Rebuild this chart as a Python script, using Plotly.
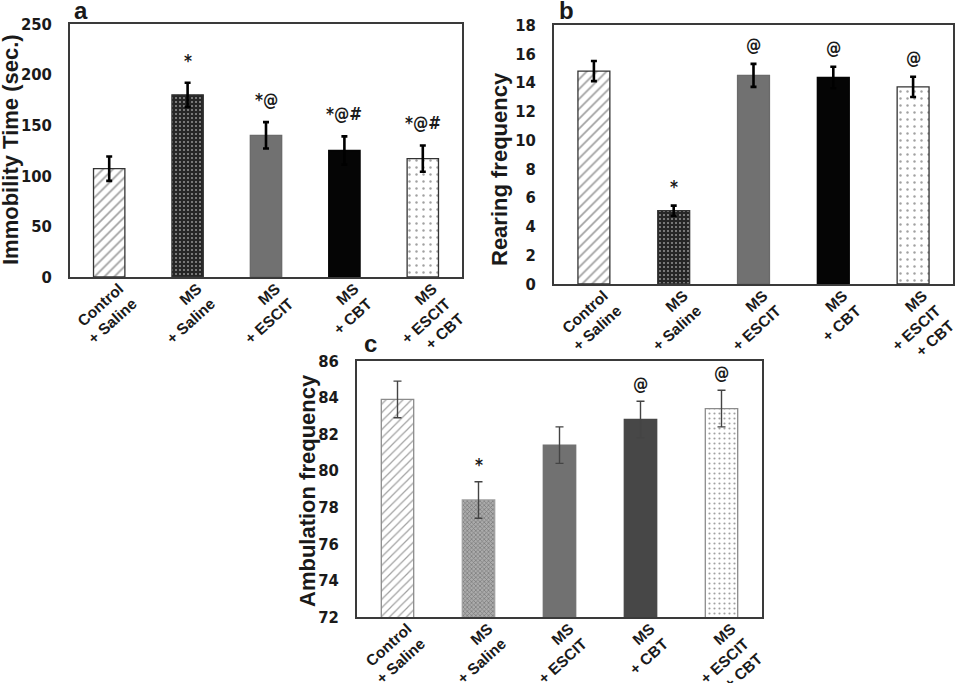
import plotly.graph_objects as go


# group labels shared by all three panels
GROUPS = [
    "Control<br>+ Saline",
    "MS<br>+ Saline",
    "MS<br>+ ESCIT",
    "MS<br>+ CBT",
    "MS<br>+ ESCIT<br>+ CBT",
]

# (a) forced swim test, immobility time (sec.)
IMMOBILITY_MEAN = [107, 180, 140, 125, 117]
IMMOBILITY_SEM = [12, 12, 13, 14, 13]
IMMOBILITY_SIG = ["", "*", "*@", "*@#", "*@#"]

# (b) open field, rearing frequency
REARING_MEAN = [14.8, 5.1, 14.5, 14.35, 13.7]
REARING_SEM = [0.7, 0.35, 0.8, 0.75, 0.7]
REARING_SIG = ["", "*", "@", "@", "@"]

# (c) open field, ambulation frequency
AMBULATION_MEAN = [83.9, 78.4, 81.4, 82.8, 83.4]
AMBULATION_SEM = [1.0, 1.0, 1.0, 1.0, 1.0]
AMBULATION_SIG = ["", "*", "", "@", "@"]

NARROW = "Liberation Sans Narrow, DejaVu Sans Condensed, Arial Narrow, sans-serif"
X_TICK_FONT = dict(family="Liberation Sans, Arial, sans-serif", size=15.5, color="#1a1a1a", weight="bold")
Y_TICK_FONT = dict(family=NARROW, size=16.5, color="#1a1a1a", weight="bold")
TITLE_FONT = dict(family="Liberation Sans, Arial, sans-serif", size=22, color="#1a1a1a", weight="bold")

# fill styles for panels a and b
STYLE_AB = dict(
    shape=["/", ".", "", "", "."],
    fg=["#8a8a8a", "#555555", "#717171", "#050505", "#8a8a8a"],
    bg=["#ffffff", "#262626", "#717171", "#050505", "#ffffff"],
    size=[7, 4, 8, 8, 7],
    solidity=[0.25, 0.2, 0.3, 0.3, 0.1],
    line=["#333333", "#333333", "#6a6a6a", "#050505", "#333333"],
)

# fill styles for panel c
STYLE_C = dict(
    shape=["/", "x", "", "", "."],
    fg=["#b0b0b0", "#8a8a8a", "#717171", "#474747", "#dddddd"],
    bg=["#ffffff", "#ababab", "#717171", "#474747", "#ffffff"],
    size=[6, 3, 8, 8, 5],
    solidity=[0.2, 0.4, 0.3, 0.3, 0.15],
    line=["#8c8c8c", "#a0a0a0", "#717171", "#474747", "#8c8c8c"],
)


def bar_trace(means, sems, style, xaxis, yaxis, err_color, err_thick, err_width):
    return go.Bar(
        x=GROUPS,
        y=means,
        xaxis=xaxis,
        yaxis=yaxis,
        marker=dict(
            color=style["bg"],
            line=dict(color=style["line"], width=1.3),
            pattern=dict(
                shape=style["shape"],
                fgcolor=style["fg"],
                bgcolor=style["bg"],
                size=style["size"],
                solidity=style["solidity"],
            ),
        ),
        error_y=dict(
            type="data",
            array=sems,
            visible=True,
            color=err_color,
            thickness=err_thick,
            width=err_width,
        ),
        showlegend=False,
    )


def sig_annotations(means, sems, labels, xref, yref, shift):
    notes = []
    for group, mean, sem, label in zip(GROUPS, means, sems, labels):
        if not label:
            continue
        notes.append(
            dict(
                x=group,
                y=mean + sem,
                xref=xref,
                yref=yref,
                text=label,
                showarrow=False,
                yanchor="bottom",
                yshift=shift,
                font=dict(family=NARROW, size=17, color="#1a1a1a", weight="bold"),
            )
        )
    return notes


fig = go.Figure()
fig.add_trace(bar_trace(IMMOBILITY_MEAN, IMMOBILITY_SEM, STYLE_AB, "x", "y", "#000000", 2.6, 3))
fig.add_trace(bar_trace(REARING_MEAN, REARING_SEM, STYLE_AB, "x2", "y2", "#000000", 2.6, 3))
fig.add_trace(bar_trace(AMBULATION_MEAN, AMBULATION_SEM, STYLE_C, "x3", "y3", "#444444", 1.4, 4))

x_common = dict(
    showline=True,
    mirror=True,
    linecolor="#3a3a3a",
    linewidth=1.5,
    ticks="",
    tickangle=-42,
    tickfont=X_TICK_FONT,
    ticklabelshift=10,
    ticklabelstandoff=-5,
    showgrid=False,
    fixedrange=True,
    automargin=False,
)
y_common = dict(
    showline=True,
    mirror=True,
    linecolor="#3a3a3a",
    linewidth=1.5,
    ticks="",
    tickfont=Y_TICK_FONT,
    showgrid=False,
    zeroline=False,
    ticklabelstandoff=13,
    automargin=False,
)

annotations = []
annotations += sig_annotations(IMMOBILITY_MEAN, IMMOBILITY_SEM, IMMOBILITY_SIG, "x", "y", 10)
annotations += sig_annotations(REARING_MEAN, REARING_SEM, REARING_SIG, "x2", "y2", 7)
annotations += sig_annotations(AMBULATION_MEAN, AMBULATION_SEM, AMBULATION_SIG, "x3", "y3", 5)

# y-axis titles, placed by hand so they sit clear of the tick labels
for title, px, py in [
    ("Immobility Time (sec.)", 11, 150),
    ("Rearing frequency", 499, 169),
    ("Ambulation frequency", 307, 491),
]:
    annotations.append(
        dict(
            text=title,
            x=px / 955,
            y=1 - py / 683,
            xref="paper",
            yref="paper",
            xanchor="center",
            yanchor="middle",
            textangle=-90,
            showarrow=False,
            font=TITLE_FONT,
        )
    )

panel_font = dict(family="Liberation Sans, Arial, sans-serif", size=24, color="#1a1a1a", weight="bold")
for letter, px, py in [("a", 72, 10), ("b", 557, 10), ("c", 362, 343)]:
    annotations.append(
        dict(
            text=letter,
            x=px / 955,
            y=1 - py / 683,
            xref="paper",
            yref="paper",
            xanchor="left",
            yanchor="middle",
            showarrow=False,
            font=panel_font,
        )
    )

fig.update_layout(
    width=955,
    height=683,
    margin=dict(l=0, r=0, t=0, b=0),
    paper_bgcolor="white",
    plot_bgcolor="white",
    bargap=0.6,
    xaxis=dict(domain=[70 / 955, 462 / 955], anchor="y", **x_common),
    yaxis=dict(
        domain=[1 - 277 / 683, 1 - 24 / 683],
        anchor="x",
        range=[0, 250],
        dtick=50,
        **y_common,
    ),
    xaxis2=dict(domain=[554 / 955, 953 / 955], anchor="y2", **x_common),
    yaxis2=dict(
        domain=[1 - 284 / 683, 1 - 25 / 683],
        anchor="x2",
        range=[0, 18],
        dtick=2,
        **y_common,
    ),
    xaxis3=dict(domain=[357 / 955, 762 / 955], anchor="y3", **x_common),
    yaxis3=dict(
        domain=[1 - 617 / 683, 1 - 361 / 683],
        anchor="x3",
        range=[72, 86],
        dtick=2,
        **y_common,
    ),
    annotations=annotations,
)

# the page's default body margin would push the fixed-size figure out of the window
fig.write_html(
    "out.html",
    config={"displayModeBar": False},
    post_script="document.body.style.margin = '0';",
)
